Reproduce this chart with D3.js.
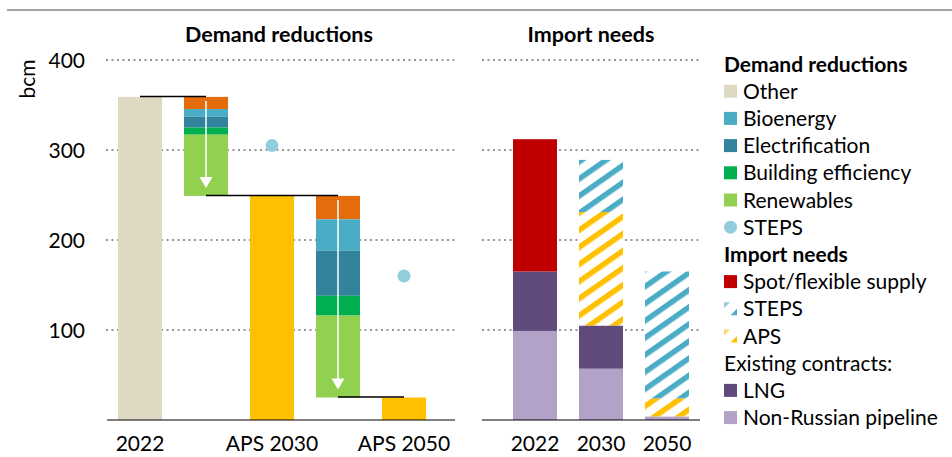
<!DOCTYPE html>
<html>
<head>
<meta charset="utf-8">
<script src="https://cdn.jsdelivr.net/npm/d3@7"></script>
<style>
  body { margin: 0; background: #fff; }
  text { font-family: Lato, "Open Sans", sans-serif; fill: #000; }
</style>
</head>
<body>
<script>
// demand waterfall (bcm)
const stepLabels = ["2022", "APS 2030", "APS 2050"];
const demandTotals = [359, 249, 25];
const reductionSeries = ["Other", "Bioenergy", "Electrification", "Building efficiency", "Renewables"];
const reductions2030 = [13.5, 8.5, 12, 8, 68];
const reductions2050 = [26, 35, 50, 22, 91];
const stepsDemand = [null, 305, 160];

// import needs (bcm)
const importYears = ["2022", "2030", "2050"];
const pipeline = [99, 57, 4];
const lng = [66, 48, 0];
const spot = [147, 0, 0];
const apsNeeds = [0, 126, 20];
const stepsNeeds = [0, 58, 141];

const yTicks = [100, 200, 300, 400];

const colors = {
  "Other": "#e46c0a", "Bioenergy": "#4bacc6", "Electrification": "#31849b",
  "Building efficiency": "#00b050", "Renewables": "#92d050",
  total2022: "#ddd9c3", aps: "#ffc000", dot: "#92cddc",
  spot: "#c00000", lng: "#604a7b", pipeline: "#b3a2c7"
};

const W = 952, H = 457;
const FS = "21px";
const svg = d3.select("body").append("svg")
  .attr("width", W)
  .attr("height", H);

const defs = svg.append("defs");
function hatch(id, color) {
  const p = defs.append("pattern")
    .attr("id", id)
    .attr("patternUnits", "userSpaceOnUse")
    .attr("width", 14)
    .attr("height", 14)
    .attr("patternTransform", "rotate(-35)");
  p.append("rect").attr("width", 14).attr("height", 14).attr("fill", "#fff");
  p.append("rect").attr("y", 0).attr("width", 14).attr("height", 5.5).attr("fill", color);
}
hatch("hatchSteps", colors["Bioenergy"]);
hatch("hatchAps", colors.aps);

// top rule
svg.append("line")
  .attr("x1", 7).attr("x2", W)
  .attr("y1", 10).attr("y2", 10)
  .attr("stroke", "#a6a6a6")
  .attr("stroke-width", 2);

const y = d3.scaleLinear().domain([0, 400]).range([420, 60]);
const barW = 44;

// left panel positions: 2022, reduction, APS 2030, reduction, APS 2050
const xL = d3.scalePoint()
  .domain(["2022", "red1", "APS 2030", "red2", "APS 2050"])
  .range([140, 404]);
const xR = d3.scalePoint().domain(importYears).range([535, 667]);

// gridlines
function grid(x1, x2) {
  svg.append("g").selectAll("line")
    .data(yTicks)
    .enter()
    .append("line")
    .attr("x1", x1).attr("x2", x2)
    .attr("y1", d => y(d)).attr("y2", d => y(d))
    .attr("stroke", "#969696")
    .attr("stroke-width", 2)
    .attr("stroke-dasharray", "2,3.5");
}
grid(106, 455);
grid(482, 700);

// y tick labels
svg.append("g").selectAll("text")
  .data(yTicks)
  .enter()
  .append("text")
  .attr("x", 85)
  .attr("y", d => y(d) + 7.5)
  .attr("text-anchor", "end")
  .attr("font-size", FS)
  .text(d => d);

svg.append("text")
  .attr("transform", "translate(35,79) rotate(-90)")
  .attr("text-anchor", "middle")
  .attr("font-size", FS)
  .text("bcm");

// panel titles
svg.append("text")
  .attr("x", 279).attr("y", 42)
  .attr("text-anchor", "middle")
  .attr("font-size", "21.5px")
  .attr("font-weight", "bold")
  .text("Demand reductions");
svg.append("text")
  .attr("x", 591).attr("y", 42)
  .attr("text-anchor", "middle")
  .attr("font-size", "21.5px")
  .attr("font-weight", "bold")
  .text("Import needs");

// demand total bars
const totalKeys = ["2022", "APS 2030", "APS 2050"];
svg.append("g").selectAll("rect")
  .data(demandTotals)
  .enter()
  .append("rect")
  .attr("x", (d, i) => xL(totalKeys[i]) - barW / 2)
  .attr("y", d => y(d))
  .attr("width", barW)
  .attr("height", d => y(0) - y(d))
  .attr("fill", (d, i) => i === 0 ? colors.total2022 : colors.aps);

// reduction bars (stacked downward from previous total)
function reductionBar(key, start, values) {
  let top = start;
  const segs = values.map((v, i) => {
    const s = { name: reductionSeries[i], top: top, bottom: top - v };
    top -= v;
    return s;
  });
  const g = svg.append("g");
  g.selectAll("rect")
    .data(segs)
    .enter()
    .append("rect")
    .attr("x", xL(key) - barW / 2)
    .attr("y", d => y(d.top))
    .attr("width", barW)
    .attr("height", d => y(d.bottom) - y(d.top))
    .attr("fill", d => colors[d.name]);
  // white arrow
  const cx = xL(key);
  const y0 = y(start) + 4;
  const y1 = y(top) - 8;
  g.append("line")
    .attr("x1", cx).attr("x2", cx)
    .attr("y1", y0).attr("y2", y1 - 8)
    .attr("stroke", "#fff")
    .attr("stroke-width", 1.5);
  g.append("path")
    .attr("d", `M${cx - 6.5},${y1 - 11} L${cx + 6.5},${y1 - 11} L${cx},${y1} Z`)
    .attr("fill", "#fff");
}
reductionBar("red1", demandTotals[0], reductions2030);
reductionBar("red2", demandTotals[1], reductions2050);

// connector lines
const connectors = [
  { from: "2022", to: "red1", v: demandTotals[0] },
  { from: "red1", to: "red2", v: demandTotals[1] },
  { from: "red2", to: "APS 2050", v: demandTotals[2] }
];
svg.append("g").selectAll("line")
  .data(connectors)
  .enter()
  .append("line")
  .attr("x1", d => xL(d.from)).attr("x2", d => xL(d.to))
  .attr("y1", d => y(d.v) - 0.5).attr("y2", d => y(d.v) - 0.5)
  .attr("stroke", "#000")
  .attr("stroke-width", 1.5);

// STEPS dots
svg.append("g").selectAll("circle")
  .data(stepsDemand.map((v, i) => ({ v: v, key: totalKeys[i] })).filter(d => d.v !== null))
  .enter()
  .append("circle")
  .attr("cx", d => xL(d.key))
  .attr("cy", d => y(d.v))
  .attr("r", 6.5)
  .attr("fill", colors.dot);

// import stacked bars
const importLayers = [
  { vals: pipeline, fill: colors.pipeline },
  { vals: lng, fill: colors.lng },
  { vals: spot, fill: colors.spot },
  { vals: apsNeeds, fill: "url(#hatchAps)" },
  { vals: stepsNeeds, fill: "url(#hatchSteps)" }
];
const importSegs = [];
importYears.forEach((yr, j) => {
  let base = 0;
  importLayers.forEach(l => {
    const v = l.vals[j];
    if (v > 0) importSegs.push({ yr: yr, b: base, t: base + v, fill: l.fill });
    base += v;
  });
});
svg.append("g").selectAll("rect")
  .data(importSegs)
  .enter()
  .append("rect")
  .attr("x", d => xR(d.yr) - barW / 2)
  .attr("y", d => y(d.t))
  .attr("width", barW)
  .attr("height", d => y(d.b) - y(d.t))
  .attr("fill", d => d.fill);

// baselines
svg.append("line")
  .attr("x1", 107).attr("x2", 455)
  .attr("y1", y(0)).attr("y2", y(0))
  .attr("stroke", "#000").attr("stroke-width", 1.2);
svg.append("line")
  .attr("x1", 482).attr("x2", 700)
  .attr("y1", y(0)).attr("y2", y(0))
  .attr("stroke", "#000").attr("stroke-width", 1.2);

// x labels
svg.append("g").selectAll("text")
  .data(totalKeys)
  .enter()
  .append("text")
  .attr("x", d => xL(d))
  .attr("y", 451)
  .attr("text-anchor", "middle")
  .attr("font-size", FS)
  .text(d => d);
svg.append("g").selectAll("text")
  .data(importYears)
  .enter()
  .append("text")
  .attr("x", d => xR(d))
  .attr("y", 451)
  .attr("text-anchor", "middle")
  .attr("font-size", FS)
  .text(d => d);

// legend
const legendItems = [
  { label: "Demand reductions", type: "title" },
  { label: "Other", type: "box", color: colors.total2022 },
  { label: "Bioenergy", type: "box", color: colors["Bioenergy"] },
  { label: "Electrification", type: "box", color: colors["Electrification"] },
  { label: "Building efficiency", type: "box", color: colors["Building efficiency"] },
  { label: "Renewables", type: "box", color: colors["Renewables"] },
  { label: "STEPS", type: "dot", color: colors.dot },
  { label: "Import needs", type: "title" },
  { label: "Spot/flexible supply", type: "box", color: colors.spot },
  { label: "STEPS", type: "hatch", color: colors["Bioenergy"] },
  { label: "APS", type: "hatch", color: colors.aps },
  { label: "Existing contracts:", type: "plain" },
  { label: "LNG", type: "box", color: colors.lng },
  { label: "Non-Russian pipeline", type: "box", color: colors.pipeline }
];
const lx = 724, ly0 = 64, lstep = 27.2;
const lg = svg.append("g").selectAll("g")
  .data(legendItems)
  .enter()
  .append("g")
  .attr("transform", (d, i) => `translate(${lx},${ly0 + i * lstep})`);
lg.filter(d => d.type === "box").append("rect")
  .attr("x", 0).attr("y", -6.5).attr("width", 13).attr("height", 13)
  .attr("fill", d => d.color);
lg.filter(d => d.type === "dot").append("circle")
  .attr("cx", 6.5).attr("cy", 0).attr("r", 6.5)
  .attr("fill", d => d.color);
const hg = lg.filter(d => d.type === "hatch");
hg.append("path")
  .attr("d", "M0,-6.5 L6,-6.5 L0,-0.5 Z")
  .attr("fill", d => d.color)
  .attr("opacity", 0.6);
hg.append("path")
  .attr("d", "M13,0 L13,6.5 L6.5,6.5 Z")
  .attr("fill", d => d.color);
lg.append("text")
  .attr("x", d => (d.type === "title" || d.type === "plain") ? 0 : 19)
  .attr("y", 7.5)
  .attr("font-size", FS)
  .attr("font-weight", d => d.type === "title" ? "bold" : "normal")
  .text(d => d.label);
</script>
</body>
</html>
